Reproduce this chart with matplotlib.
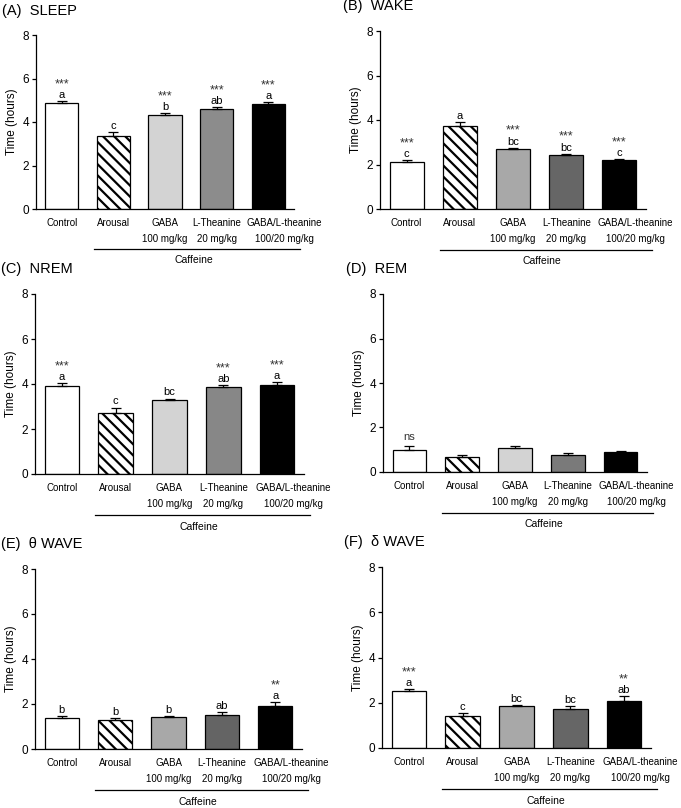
import numpy as np
import matplotlib
matplotlib.use('Agg')
from matplotlib import pyplot as plt
from matplotlib import transforms

plt.rcParams['font.family'] = ['Liberation Sans', 'DejaVu Sans']
plt.rcParams['hatch.linewidth'] = 1.6

groups = ['Control', 'Arousal', 'GABA\n100 mg/kg', 'L-Theanine\n20 mg/kg',
          'GABA/L-theanine\n100/20 mg/kg']

sleep_mean = [4.88, 3.37, 4.34, 4.61, 4.82]
sleep_err = [0.08, 0.17, 0.07, 0.08, 0.10]
sleep_letters = ['a', 'c', 'b', 'ab', 'a']
sleep_stars = ['***', '', '***', '***', '***']

wake_mean = [2.09, 3.73, 2.69, 2.42, 2.18]
wake_err = [0.10, 0.19, 0.06, 0.06, 0.05]
wake_letters = ['c', 'a', 'bc', 'bc', 'c']
wake_stars = ['***', '', '***', '***', '***']

nrem_mean = [3.91, 2.70, 3.27, 3.85, 3.97]
nrem_err = [0.14, 0.25, 0.08, 0.10, 0.11]
nrem_letters = ['a', 'c', 'bc', 'ab', 'a']
nrem_stars = ['***', '', '', '***', '***']

rem_mean = [1.00, 0.68, 1.08, 0.77, 0.88]
rem_err = [0.16, 0.07, 0.10, 0.10, 0.05]
rem_letters = ['', '', '', '', '']
rem_stars = ['ns', '', '', '', '']

theta_mean = [1.40, 1.29, 1.41, 1.53, 1.92]
theta_err = [0.05, 0.10, 0.04, 0.11, 0.16]
theta_letters = ['b', 'b', 'b', 'ab', 'a']
theta_stars = ['', '', '', '', '**']

delta_mean = [2.51, 1.41, 1.85, 1.72, 2.06]
delta_err = [0.10, 0.12, 0.05, 0.12, 0.22]
delta_letters = ['a', 'c', 'bc', 'bc', 'ab']
delta_stars = ['***', '', '', '', '**']

fig = plt.figure(figsize=(6.81, 8.08), dpi=100)
W, H = 681.0, 808.0


def make_ax(left, right, top, bottom):
    return fig.add_axes([left / W, 1 - bottom / H, (right - left) / W, (bottom - top) / H])


def panel(ax, title, means, errs, letters, stars, gaba_col, thea_col, title_x):
    x = np.arange(len(groups))
    fills = ['white', 'white', gaba_col, thea_col, 'black']
    bars = ax.bar(x, means, width=0.64, color=fills, edgecolor='black', linewidth=0.9)
    bars[1].set_hatch('\\\\\\')
    ax.errorbar(x, means, yerr=[np.zeros(len(x)), errs], fmt='none', ecolor='black',
                elinewidth=0.9, capsize=3.5, capthick=0.9)
    for i in range(len(x)):
        top = means[i] + errs[i]
        if letters[i]:
            ax.annotate(letters[i], (x[i], top), xytext=(0, 2.3), textcoords='offset points',
                        ha='center', va='baseline', fontsize=8)
        if stars[i]:
            if letters[i]:
                ax.annotate(stars[i], (x[i], top), xytext=(0, 10), textcoords='offset points',
                            ha='center', va='baseline', fontsize=9, color='#333333')
            else:
                ax.annotate(stars[i], (x[i], top), xytext=(0, 4.5), textcoords='offset points',
                            ha='center', va='baseline', fontsize=8, color='#333333')

    ax.set_xlim(-0.5, 4.5)
    ax.set_ylim(0, 8)
    ax.set_yticks([0, 2, 4, 6, 8])
    ax.spines['top'].set_visible(False)
    ax.spines['right'].set_visible(False)
    ax.spines['left'].set_linewidth(0.9)
    ax.spines['bottom'].set_linewidth(0.9)
    ax.tick_params(axis='y', direction='out', length=3, width=0.9, pad=2, labelsize=8.5)
    ax.set_xticks(x)
    ax.set_xticklabels(groups, fontsize=7, linespacing=1.8)
    ax.tick_params(axis='x', length=0, pad=6.5)
    last = ax.get_xticklabels()[-1]
    last.set_transform(last.get_transform() + transforms.ScaledTranslation(11.5 / 72, 0, fig.dpi_scale_trans))
    ax.set_ylabel('Time (hours)', fontsize=8.5, labelpad=3)

    tr = transforms.blended_transform_factory(ax.transData, ax.transAxes)
    ax.plot([0.62, 4.62], [-0.228, -0.228], transform=tr, color='black', lw=0.9, clip_on=False)
    ax.text(2.55, -0.292, 'Caffeine', transform=tr, ha='center', va='center', fontsize=7.5)

    ax.text(title_x, 1.14, title, transform=ax.transAxes, ha='left', va='center', fontsize=10.5)


axA = make_ax(36, 294, 35, 209)
axB = make_ax(380, 646, 31, 209)
axC = make_ax(35, 304, 294, 474)
axD = make_ax(383, 647, 294, 472)
axE = make_ax(35, 302, 569, 749)
axF = make_ax(382, 651, 567, 748)

panel(axA, '(A)  SLEEP', sleep_mean, sleep_err, sleep_letters, sleep_stars, '#d3d3d3', '#8c8c8c', -0.131)
panel(axB, '(B)  WAKE', wake_mean, wake_err, wake_letters, wake_stars, '#a8a8a8', '#666666', -0.14)
panel(axC, '(C)  NREM', nrem_mean, nrem_err, nrem_letters, nrem_stars, '#d3d3d3', '#878787', -0.127)
panel(axD, '(D)  REM', rem_mean, rem_err, rem_letters, rem_stars, '#d3d3d3', '#7a7a7a', -0.14)
panel(axE, '(E)  \u03b8 WAVE', theta_mean, theta_err, theta_letters, theta_stars, '#a8a8a8', '#646464', -0.127)
panel(axF, '(F)  \u03b4 WAVE', delta_mean, delta_err, delta_letters, delta_stars, '#a8a8a8', '#666666', -0.14)

plt.savefig('out.png', dpi=100)
